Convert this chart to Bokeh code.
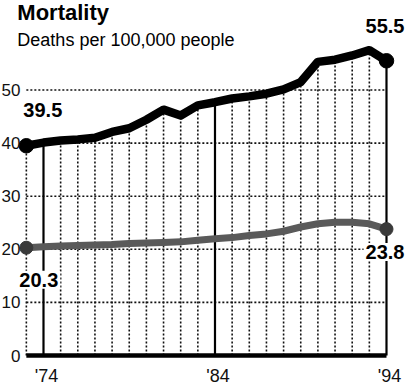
from bokeh.plotting import figure
from bokeh.models import Range1d
from bokeh.core.properties import value
from bokeh.embed import file_html
from bokeh.resources import INLINE

# ---- data ----
years = [1973, 1974, 1975, 1976, 1977, 1978, 1979, 1980, 1981, 1982, 1983,
         1984, 1985, 1986, 1987, 1988, 1989, 1990, 1991, 1992, 1993, 1994]
upper = [39.5, 40.1, 40.5, 40.7, 41.0, 42.1, 42.8, 44.4, 46.3, 45.2, 47.1,
         47.7, 48.4, 48.8, 49.3, 50.1, 51.5, 55.3, 55.7, 56.5, 57.5, 55.5]
lower = [20.3, 20.5, 20.6, 20.7, 20.8, 20.9, 21.1, 21.2, 21.3, 21.4, 21.7,
         22.0, 22.2, 22.6, 22.9, 23.4, 24.2, 24.8, 25.1, 25.1, 24.8, 23.8]
y_ticks = [0, 10, 20, 30, 40, 50]
x_ticks = [1974, 1984, 1994]
x_tick_labels = ["'74", "'84", "'94"]
title = "Mortality"
subtitle = "Deaths per 100,000 people"

FONT = value("Liberation Sans")

x_start, x_end = 1971.493, 1995.225
y_start, y_end = -5.838, 66.855

p = figure(width=407, height=386, output_backend="svg", toolbar_location=None,
           x_range=Range1d(x_start, x_end), y_range=Range1d(y_start, y_end),
           x_axis_type=None, y_axis_type=None,
           min_border=0, min_border_left=0, min_border_right=0,
           min_border_top=0, min_border_bottom=0)
p.outline_line_color = None
p.grid.visible = False
p.background_fill_color = "white"
p.border_fill_color = "white"

x0, x1 = years[0], years[-1]

# horizontal dotted gridlines
hy = [t for t in y_ticks if t > 0]
p.segment(x0=[x0] * len(hy), y0=hy, x1=[x1] * len(hy), y1=hy,
          line_color="#111111", line_width=1.6, line_dash="2 2")

# vertical gridlines up to the upper curve
dot_x = [y for y in years if y not in x_ticks]
dot_top = [u for y, u in zip(years, upper) if y not in x_ticks]
p.segment(x0=dot_x, y0=[0] * len(dot_x), x1=dot_x, y1=dot_top,
          line_color="#111111", line_width=1.6, line_dash="2 2")
sol_top = [u for y, u in zip(years, upper) if y in x_ticks]
p.segment(x0=x_ticks, y0=[0] * len(x_ticks), x1=x_ticks, y1=sol_top,
          line_color="black", line_width=2.2)

# baseline
p.segment(x0=[x0], y0=[0], x1=[x1], y1=[0], line_color="black", line_width=4.5)

# series
p.line(years, lower, line_color="#5a5a5a", line_width=7, line_join="round")
p.line(years, upper, line_color="black", line_width=8.5, line_join="round")
p.scatter([x0, x1], [lower[0], lower[-1]], size=13, color="#3a3a3a")
p.scatter([x0, x1], [upper[0], upper[-1]], size=14.5, color="black")

# value labels
p.text(x=[x0], y=[upper[0]], text=[f"{upper[0]}"], text_font=FONT,
       text_font_size="20px", text_font_style="bold", text_align="left",
       text_baseline="alphabetic", x_offset=-3, y_offset=-36)
p.text(x=[x1], y=[upper[-1]], text=[f"{upper[-1]}"], text_font=FONT,
       text_font_size="20px", text_font_style="bold", text_align="right",
       text_baseline="alphabetic", x_offset=18, y_offset=-35)
p.text(x=[x0], y=[lower[0]], text=[f"{lower[0]}"], text_font=FONT,
       text_font_size="20px", text_font_style="bold", text_align="left",
       text_baseline="alphabetic", x_offset=-9, y_offset=32,
       background_fill_color="white", padding=2)
p.text(x=[x1], y=[lower[-1]], text=[f"{lower[-1]}"], text_font=FONT,
       text_font_size="20px", text_font_style="bold", text_align="right",
       text_baseline="alphabetic", x_offset=20, y_offset=23,
       background_fill_color="white", padding=2)

# axis tick labels
p.text(x=[x0] * len(y_ticks), y=y_ticks, text=[str(t) for t in y_ticks],
       text_font=FONT, text_font_size="17px", text_align="right",
       text_baseline="middle", x_offset=-6, text_color="#111111")
p.text(x=x_ticks, y=[0] * len(x_ticks), text=x_tick_labels,
       text_font=FONT, text_font_size="18px", text_align="center",
       text_baseline="alphabetic", x_offset=3, y_offset=20, text_color="#111111")

# title / subtitle
p.text(x=[x0], y=[y_end], text=[title], text_font=FONT, text_font_size="22px",
       text_font_style="bold", text_align="left", text_baseline="alphabetic",
       x_offset=-9, y_offset=12)
p.text(x=[x0], y=[y_end], text=[subtitle], text_font=FONT, text_font_size="18px",
       text_align="left", text_baseline="alphabetic", x_offset=-9, y_offset=39)

open("out.html", "w").write(file_html(p, INLINE))
